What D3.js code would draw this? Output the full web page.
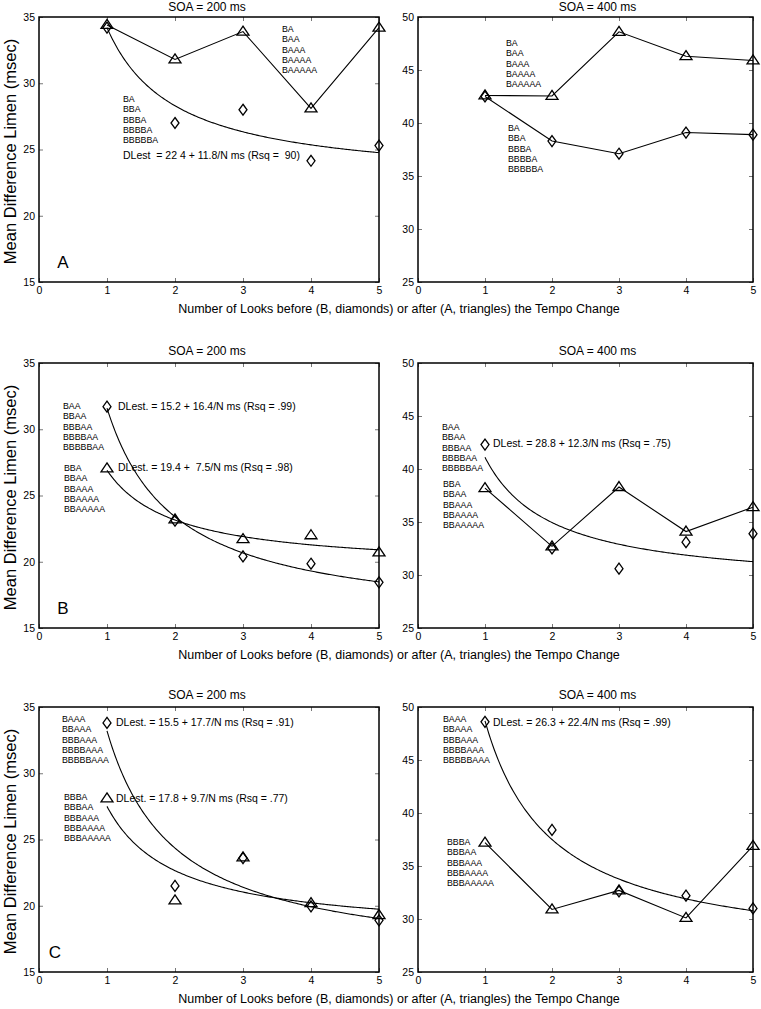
<!DOCTYPE html>
<html>
<head>
<meta charset="utf-8">
<script src="https://cdn.jsdelivr.net/npm/d3@7"></script>
<style>
  html, body { margin: 0; padding: 0; background: #fff; }
  svg { display: block; }
  text { font-family: "Liberation Sans", Arial, sans-serif; fill: #000; }
</style>
</head>
<body>
<svg id="chart" width="761" height="1009"></svg>
<script>
// ---------------- data ----------------
const looks = [1, 2, 3, 4, 5];
const xTicks = [0, 1, 2, 3, 4, 5];
const yTicks200 = [15, 20, 25, 30, 35];
const yTicks400 = [25, 30, 35, 40, 45, 50];
const titles = ["SOA = 200 ms", "SOA = 400 ms"];
const panelLetters = ["A", "B", "C"];
const xAxisTitle = "Number of Looks before (B, diamonds) or after (A, triangles) the Tempo Change";
const yAxisTitle = "Mean Difference Limen (msec)";

// Panel A
const triA200 = [34.4, 31.8, 33.9, 28.1, 34.2];
const diaA200 = [34.2, 27.0, 28.0, 24.15, 25.3];
const fitA200Dia = [22.4, 11.8];
const triA400 = [42.6, 42.55, 48.6, 46.3, 45.9];
const diaA400 = [42.5, 38.3, 37.1, 39.1, 38.9];
// Panel B
const triB200 = [27.05, 23.2, 21.7, 22.0, 20.7];
const diaB200 = [31.7, 23.1, 20.4, 19.85, 18.45];
const fitB200Dia = [15.2, 16.4];
const fitB200Tri = [19.4, 7.5];
const triB400 = [38.2, 32.7, 38.3, 34.1, 36.4];
const diaB400 = [42.3, 32.5, 30.6, 33.1, 33.9];
const fitB400Dia = [28.8, 12.3];
// Panel C
const triC200 = [28.1, 20.4, 23.65, 20.2, 19.3];
const diaC200 = [33.8, 21.5, 23.6, 19.96, 18.9];
const fitC200Dia = [15.5, 17.7];
const fitC200Tri = [17.8, 9.7];
const triC400 = [37.2, 30.9, 32.7, 30.1, 36.9];
const diaC400 = [48.6, 38.4, 32.6, 32.2, 31.0];
const fitC400Dia = [26.3, 22.4];

// Sequence annotations
const seqA_tri = ["BA", "BAA", "BAAA", "BAAAA", "BAAAAA"];
const seqA_dia = ["BA", "BBA", "BBBA", "BBBBA", "BBBBBA"];
const seqB_dia = ["BAA", "BBAA", "BBBAA", "BBBBAA", "BBBBBAA"];
const seqB_tri = ["BBA", "BBAA", "BBAAA", "BBAAAA", "BBAAAAA"];
const seqC_dia = ["BAAA", "BBAAA", "BBBAAA", "BBBBAAA", "BBBBBAAA"];
const seqC_tri = ["BBBA", "BBBAA", "BBBAAA", "BBBAAAA", "BBBAAAAA"];

// Equation labels
const eqA200 = "DLest  = 22 4 + 11.8/N ms (Rsq =  90)";
const eqB200Dia = "DLest. = 15.2 + 16.4/N ms (Rsq = .99)";
const eqB200Tri = "DLest. = 19.4 +  7.5/N ms (Rsq = .98)";
const eqB400Dia = "DLest. = 28.8 + 12.3/N ms (Rsq = .75)";
const eqC200Dia = "DLest. = 15.5 + 17.7/N ms (Rsq = .91)";
const eqC200Tri = "DLest. = 17.8 + 9.7/N ms (Rsq = .77)";
const eqC400Dia = "DLest. = 26.3 + 22.4/N ms (Rsq = .99)";

// ---------------- layout ----------------
const rowTops = [17, 363, 707];
const titleBase = [11, 355, 699];
const plotH = 265;
const colLeft = [39, 418];
const colW = [340, 335];

const panels = [
  // row A
  { row: 0, col: 0, yDomain: [15, 35], yTicks: yTicks200,
    tri: triA200, dia: diaA200, triLine: true, diaLine: false,
    fits: [fitA200Dia],
    texts: [{ lines: seqA_tri, x: 243, y: 12 }, { lines: seqA_dia, x: 84, y: 82 }],
    eqs: [{ t: eqA200, x: 84, y: 138 }], letter: true, lx: 24 },
  { row: 0, col: 1, yDomain: [25, 50], yTicks: yTicks400,
    tri: triA400, dia: diaA400, triLine: true, diaLine: true,
    fits: [],
    texts: [{ lines: seqA_tri, x: 88, y: 26 }, { lines: seqA_dia, x: 90, y: 111 }],
    eqs: [] },
  // row B
  { row: 1, col: 0, yDomain: [15, 35], yTicks: yTicks200,
    tri: triB200, dia: diaB200, triLine: false, diaLine: false,
    fits: [fitB200Dia, fitB200Tri],
    texts: [{ lines: seqB_dia, x: 24, y: 43 }, { lines: seqB_tri, x: 25, y: 105 }],
    eqs: [{ t: eqB200Dia, x: 79, y: 43 }, { t: eqB200Tri, x: 79, y: 104 }], letter: true, lx: 24 },
  { row: 1, col: 1, yDomain: [25, 50], yTicks: yTicks400,
    tri: triB400, dia: diaB400, triLine: true, diaLine: false,
    fits: [fitB400Dia],
    texts: [{ lines: seqB_dia, x: 24, y: 64 }, { lines: seqB_tri, x: 25, y: 121 }],
    eqs: [{ t: eqB400Dia, x: 75, y: 80 }] },
  // row C
  { row: 2, col: 0, yDomain: [15, 35], yTicks: yTicks200,
    tri: triC200, dia: diaC200, triLine: false, diaLine: false,
    fits: [fitC200Dia, fitC200Tri],
    texts: [{ lines: seqC_dia, x: 23, y: 12 }, { lines: seqC_tri, x: 25, y: 90 }],
    eqs: [{ t: eqC200Dia, x: 77, y: 15 }, { t: eqC200Tri, x: 77, y: 91 }], letter: true, lx: 16 },
  { row: 2, col: 1, yDomain: [25, 50], yTicks: yTicks400,
    tri: triC400, dia: diaC400, triLine: true, diaLine: false,
    fits: [fitC400Dia],
    texts: [{ lines: seqC_dia, x: 25, y: 12 }, { lines: seqC_tri, x: 29, y: 135 }],
    eqs: [{ t: eqC400Dia, x: 75, y: 15 }] }
];

const svg = d3.select("#chart");
const triPath = "M0,-5.5L6,3.5L-6,3.5Z";
const diaPath = "M0,-5.5L4,0L0,5.5L-4,0Z";
const lineSpacing = 10.3;
const fmt = d3.format("d");

panels.forEach(p => {
  const left = colLeft[p.col], top = rowTops[p.row], w = colW[p.col];
  const g = svg.append("g").attr("transform", `translate(${left},${top})`);
  const x = d3.scaleLinear().domain([0, 5]).range([0, w]);
  const y = d3.scaleLinear().domain(p.yDomain).range([plotH, 0]);

  // axes with small inward ticks
  const xa = g.append("g").attr("transform", `translate(0,${plotH})`)
    .call(d3.axisBottom(x).tickValues(xTicks).tickFormat(fmt).tickSize(-4).tickSizeOuter(0).tickPadding(5));
  const xt = g.append("g")
    .call(d3.axisTop(x).tickValues(xTicks).tickSize(-4).tickSizeOuter(0).tickFormat(""));
  const ya = g.append("g")
    .call(d3.axisLeft(y).tickValues(p.yTicks).tickFormat(fmt).tickSize(-4).tickSizeOuter(0).tickPadding(4));
  const yr = g.append("g").attr("transform", `translate(${w},0)`)
    .call(d3.axisRight(y).tickValues(p.yTicks).tickSize(-4).tickSizeOuter(0).tickFormat(""));
  [xa, xt, ya, yr].forEach(a => {
    a.select(".domain").remove();
    a.selectAll(".tick line").attr("stroke", "#555").attr("stroke-width", 0.8);
    a.selectAll(".tick text").style("font-size", "10.5px").attr("fill", "#000");
  });

  // frame
  g.append("rect").attr("x", 0).attr("y", 0).attr("width", w).attr("height", plotH)
    .attr("fill", "none").attr("stroke", "#000").attr("stroke-width", 1.5);

  // title
  svg.append("text")
    .attr("x", left + w / 2 + (p.col === 1 ? 12 : -2))
    .attr("y", titleBase[p.row])
    .attr("text-anchor", "middle")
    .style("font-size", "12px")
    .text(titles[p.col]);

  const lineGen = d3.line().x((d, i) => x(looks[i])).y(d => y(d));

  // fit curves
  p.fits.forEach(f => {
    const ns = d3.range(1, 5.0001, 0.02);
    g.append("path")
      .datum(ns)
      .attr("fill", "none").attr("stroke", "#000").attr("stroke-width", 1.1)
      .attr("d", d3.line().x(n => x(n)).y(n => y(f[0] + f[1] / n)));
  });

  if (p.triLine) g.append("path").datum(p.tri).attr("fill", "none")
    .attr("stroke", "#000").attr("stroke-width", 1.1).attr("d", lineGen);
  if (p.diaLine) g.append("path").datum(p.dia).attr("fill", "none")
    .attr("stroke", "#000").attr("stroke-width", 1.1).attr("d", lineGen);

  // markers
  g.selectAll(".dia").data(p.dia).enter().append("path")
    .attr("transform", (d, i) => `translate(${x(looks[i])},${y(d)})`)
    .attr("d", diaPath).attr("fill", "none").attr("stroke", "#000").attr("stroke-width", 1.3);
  g.selectAll(".tri").data(p.tri).enter().append("path")
    .attr("transform", (d, i) => `translate(${x(looks[i])},${y(d)})`)
    .attr("d", triPath).attr("fill", "none").attr("stroke", "#000").attr("stroke-width", 1.3);

  // sequence annotations
  p.texts.forEach(t => {
    t.lines.forEach((s, i) => {
      g.append("text").attr("x", t.x).attr("y", t.y + i * lineSpacing)
        .attr("dy", "0.35em").style("font-size", "8.8px").text(s);
    });
  });
  p.eqs.forEach(e => {
    g.append("text").attr("x", e.x).attr("y", e.y).attr("dy", "0.35em")
      .style("font-size", "10.5px").style("white-space", "pre").text(e.t);
  });

  if (p.letter) {
    g.append("text").attr("x", p.lx).attr("y", plotH - 20).attr("dy", "0.35em")
      .attr("text-anchor", "middle").style("font-size", "17px").text(panelLetters[p.row]);
  }
});

// axis titles
rowTops.forEach((top, r) => {
  svg.append("text")
    .attr("x", 399).attr("y", top + plotH + 27).attr("dy", "0.35em")
    .attr("text-anchor", "middle").style("font-size", "12.5px").text(xAxisTitle);
  svg.append("text")
    .attr("transform", `translate(10,${top + plotH / 2 + 2}) rotate(-90)`)
    .attr("dy", "0.35em")
    .attr("text-anchor", "middle").style("font-size", "16.5px").text(yAxisTitle);
});
</script>
</body>
</html>
